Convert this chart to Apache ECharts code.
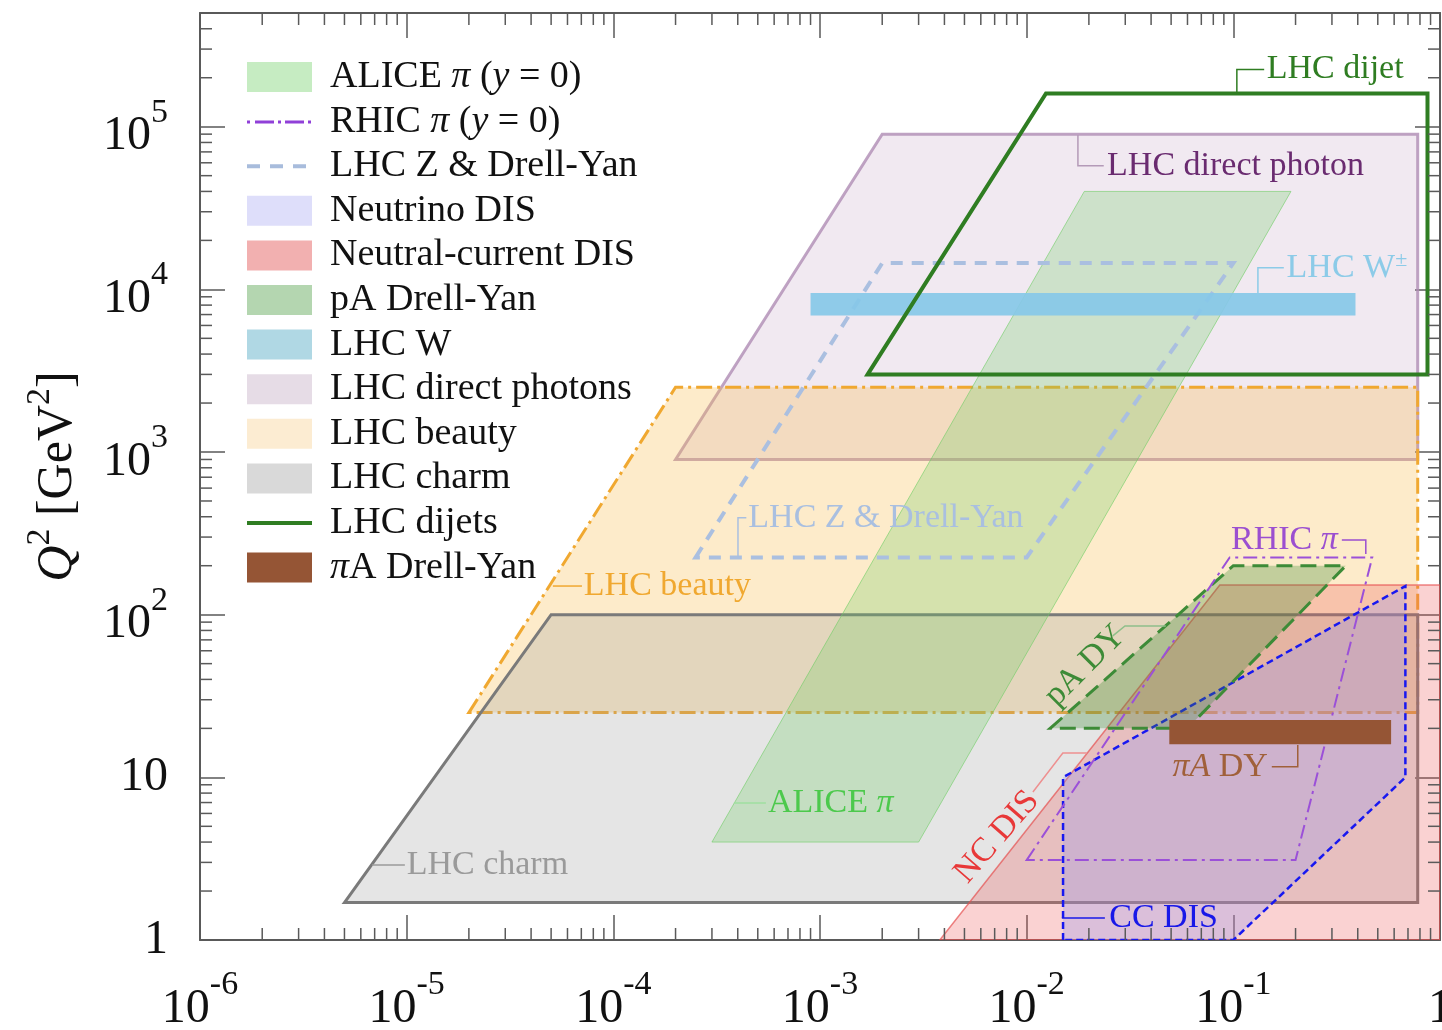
<!DOCTYPE html>
<html><head><meta charset="utf-8">
<script src="https://cdn.jsdelivr.net/npm/echarts@6/dist/echarts.min.js"></script>
<style>html,body{margin:0;padding:0;background:#fff}#c{width:1442px;height:1030px}</style>
</head><body><div id="c"></div>
<script>
const FONT = 'Liberation Serif';
// ---------- data: kinematic coverage regions, vertices as [x, Q^2 (GeV^2)] ----------
const aliceRegion    = [[3e-4, 4], [0.019, 4e4], [0.19, 4e4], [3e-3, 4]];
const rhicRegion     = [[0.01, 3.1], [0.096, 225], [0.47, 225], [0.2, 3.1]];
const lhcZDYRegion   = [[2.5e-4, 225], [2e-3, 1.45e4], [0.1, 1.45e4], [0.01, 225]];
const neutrinoRegion = [[0.015, 1], [0.015, 10], [0.68, 150], [0.68, 10], [0.1, 1]];
const ncDISRegion    = [[3.8e-3, 1], [0.086, 152], [1, 152], [1, 1]];
const pADYRegion     = [[0.013, 20], [0.1, 200], [0.35, 200], [0.06, 20]];
const lhcWBand       = [[9e-4, 6900], [0.39, 9500]];
const photonRegion   = [[2e-4, 900], [2e-3, 9e4], [0.78, 9e4], [0.78, 900]];
const beautyRegion   = [[2e-5, 25], [2e-4, 2500], [0.78, 2500], [0.78, 25]];
const charmRegion    = [[5e-6, 1.7], [5e-5, 100], [0.78, 100], [0.78, 1.7]];
const dijetRegion    = [[1.7e-3, 3000], [0.0124, 1.6e5], [0.87, 1.6e5], [0.87, 3000]];
const piADYBand      = [[0.049, 16], [0.58, 22.5]];
// axis ranges
const xRange = [1e-6, 1];
const yRange = [1, 5e5];
// region label anchors [x, Q^2] and leader lines
const regionLabels = [
  {text: 'LHC dijet', at: [0.145, 2.25e5], color: '#2f7d22', leader: [[0.141, 2.25e5], [0.104, 2.25e5], [0.104, 1.6e5]]},
  {text: 'LHC direct photon', at: [0.0245, 5.76e4], color: '#6a2b70', lineColor: '#b49ab8', leader: [[0.0177, 8.9e4], [0.0177, 5.76e4], [0.0236, 5.76e4]]},
  {text: 'LHC W{s|±}', at: [0.181, 1.36e4], color: '#8ccbe8', leader: [[0.1755, 1.36e4], [0.1315, 1.36e4], [0.1315, 9.5e3]]},
  {text: 'LHC Z & Drell-Yan', at: [4.5e-4, 394], color: '#a9bfe0', leader: [[4.4e-4, 394], [4.01e-4, 394], [4.01e-4, 227]]},
  {text: 'LHC beauty', at: [7.2e-5, 150], color: '#f0a830', leader: [[5.1e-5, 150], [7.05e-5, 150]]},
  {text: 'LHC charm', at: [1.0e-5, 2.89], color: '#9a9a9a', leader: [[6.8e-6, 2.89], [9.8e-6, 2.89]]},
  {text: 'ALICE {i|π}', at: [5.6e-4, 6.96], color: '#4cc94c', lineColor: '#9fdf9f', leader: [[3.83e-4, 6.96], [5.47e-4, 6.96]]},
  {text: 'pA DY', at: [0.0192, 48.5], color: '#3d8b37', rot: 45, align: 'center', lineColor: '#8fbf8a', leader: [[0.0261, 74.1], [0.0299, 85.3], [0.0471, 85.3]]},
  {text: 'RHIC {i|π}', at: [0.32, 288], color: '#9b4fd0', align: 'right', leader: [[0.335, 288], [0.4375, 288], [0.4375, 236]]},
  {text: '{i|πA} DY', at: [0.147, 11.6], color: '#a0603a', align: 'right', leader: [[0.1535, 11.6], [0.205, 11.6], [0.205, 15.8]]},
  {text: 'NC DIS', at: [7.18e-3, 4.3], color: '#e83838', rot: 49, align: 'center', lineColor: '#ee9090', leader: [[0.01072, 8.13], [0.01496, 14.1], [0.01955, 14.1]]},
  {text: 'CC DIS', at: [0.0251, 1.365], color: '#1818e8', leader: [[0.0148, 1.365], [0.0239, 1.365]]}
];
const legendNames = ['ALICE π (y = 0)', 'RHIC π (y = 0)', 'LHC Z & Drell-Yan', 'Neutrino DIS', 'Neutral-current DIS',
  'pA Drell-Yan', 'LHC W', 'LHC direct photons', 'LHC beauty', 'LHC charm', 'LHC dijets', 'πA Drell-Yan'];
const legendRich = {
  'ALICE π (y = 0)': '{n|ALICE }{i|π}{n| (}{i|y}{n| = 0)}',
  'RHIC π (y = 0)': '{n|RHIC }{i|π}{n| (}{i|y}{n| = 0)}',
  'πA Drell-Yan': '{i|π}{n|A Drell-Yan}'
};

// ---------- helpers ----------
function rectToPoly(b) { return [[b[0][0], b[0][1]], [b[1][0], b[0][1]], [b[1][0], b[1][1]], [b[0][0], b[1][1]]]; }
function regionSeries(name, pts, style, z) {
  return {
    type: 'custom', name: name, data: pts, z: z, clip: true, silent: true,
    encode: {x: 0, y: 1},
    renderItem: function (params, api) {
      if (params.dataIndex !== 0) return null;
      const points = pts.map(p => api.coord(p));
      return {type: 'polygon', shape: {points: points}, style: Object.assign({}, style)};
    }
  };
}
const minorXs = [], minorYs = [];
for (let d = -6; d < 0; d++) for (let m = 2; m <= 9; m++) minorXs.push(m * Math.pow(10, d));
for (let d = 0; d < 6; d++) for (let m = 2; m <= 9; m++) { const v = m * Math.pow(10, d); if (v < yRange[1]) minorYs.push(v); }

function logExp(v) { const e = Math.log10(v); const r = Math.round(e); return Math.abs(e - r) < 1e-6 ? r : null; }
const tickRich = {
  b: {fontFamily: FONT, fontSize: 48, lineHeight: 48, color: '#111', padding: [20, 0, 0, 0]},
  p: {fontFamily: FONT, fontSize: 48, lineHeight: 48, color: '#111'},
  s: {fontFamily: FONT, fontSize: 34, lineHeight: 34, color: '#111', padding: [3, 0, 31, 0]}
};
const axisCol = '#5a5a5a';

const chart = echarts.init(document.getElementById('c'), null, {renderer: 'canvas'});
const option = {
  animation: false,
  backgroundColor: '#ffffff',
  grid: {left: 200, right: 2, top: 13, bottom: 90, containLabel: false, outerBoundsMode: 'none'},
  xAxis: [
    {type: 'log', logBase: 10, min: xRange[0], max: xRange[1], splitNumber: 6, position: 'bottom',
      axisLine: {show: true, lineStyle: {color: axisCol, width: 2}},
      axisTick: {show: true, inside: true, length: 25, lineStyle: {color: axisCol, width: 1.5}},
      splitLine: {show: false}, minorTick: {show: false},
      axisLabel: {show: true, interval: 0, margin: 35, showMinLabel: true, showMaxLabel: true, hideOverlap: false, rich: tickRich,
        formatter: function (v) { const e = logExp(v); if (e === null) return ''; return e === 0 ? '{b|1}' : '{b|10}{s|' + e + '}'; }}},
    {type: 'log', logBase: 10, min: xRange[0], max: xRange[1], splitNumber: 6, position: 'top',
      axisLine: {show: true, lineStyle: {color: axisCol, width: 2}},
      axisTick: {show: true, inside: true, length: 25, lineStyle: {color: axisCol, width: 1.5}},
      splitLine: {show: false}, axisLabel: {show: false}}
  ],
  yAxis: [
    {type: 'log', logBase: 10, min: yRange[0], max: yRange[1], splitNumber: 5, position: 'left',
      name: '{i|Q}{s|2}{n| [GeV}{s|2}{n|]}', nameLocation: 'middle', nameRotate: 90, nameGap: 117,
      nameTextStyle: {fontFamily: FONT, fontSize: 48, color: '#111', rich: {
        i: {fontFamily: FONT, fontSize: 50, fontStyle: 'italic', verticalAlign: 'bottom', lineHeight: 50},
        n: {fontFamily: FONT, fontSize: 50, verticalAlign: 'bottom', lineHeight: 50},
        s: {fontFamily: FONT, fontSize: 34, verticalAlign: 'bottom', lineHeight: 34, padding: [0, 0, 26, 0]}}},
      axisLine: {show: true, lineStyle: {color: axisCol, width: 2}},
      axisTick: {show: true, inside: true, length: 25, lineStyle: {color: axisCol, width: 1.5}},
      splitLine: {show: false}, minorTick: {show: false},
      axisLabel: {show: true, interval: 0, margin: 32, hideOverlap: false, rich: tickRich,
        formatter: function (v) { const e = logExp(v); if (e === null) return ''; if (e === 0) return '{p|1}'; if (e === 1) return '{p|10}'; return '{b|10}{s|' + e + '}'; }}},
    {type: 'log', logBase: 10, min: yRange[0], max: yRange[1], splitNumber: 5, position: 'right',
      axisLine: {show: true, lineStyle: {color: axisCol, width: 2}},
      axisTick: {show: true, inside: true, length: 25, lineStyle: {color: axisCol, width: 1.5}},
      splitLine: {show: false}, axisLabel: {show: false}}
  ],
  legend: {
    orient: 'vertical', left: 242, top: 53, itemWidth: 65, itemHeight: 30, itemGap: 6.6,
    selectedMode: false,
    textStyle: {fontFamily: FONT, fontSize: 38, color: '#111', padding: [0, 0, 0, 13], lineHeight: 36,
      rich: {n: {fontFamily: FONT, fontSize: 38, color: '#111', lineHeight: 36},
             i: {fontFamily: FONT, fontSize: 38, color: '#111', fontStyle: 'italic', lineHeight: 36}}},
    formatter: function (name) { return legendRich[name] || name; },
    data: [
      {name: legendNames[0], icon: 'rect', itemStyle: {color: '#c6ecc2', borderWidth: 0}},
      {name: legendNames[1], icon: 'path://M0,0M65,30M0,14h3v3h-3zM8,14h19v3h-19zM31,14h3v3h-3zM38,14h19v3h-19zM61,14h3v3h-3z', itemStyle: {color: '#9040d8', borderWidth: 0}},
      {name: legendNames[2], icon: 'path://M0,0M65,30M0,13h13v4h-13zM23,13h13v4h-13zM46,13h13v4h-13z', itemStyle: {color: '#a8bcdc', borderWidth: 0}},
      {name: legendNames[3], icon: 'rect', itemStyle: {color: '#dedefa', borderWidth: 0}},
      {name: legendNames[4], icon: 'rect', itemStyle: {color: '#f2b0b0', borderWidth: 0}},
      {name: legendNames[5], icon: 'rect', itemStyle: {color: '#b4d6b0', borderWidth: 0}},
      {name: legendNames[6], icon: 'rect', itemStyle: {color: '#b0d8e4', borderWidth: 0}},
      {name: legendNames[7], icon: 'rect', itemStyle: {color: '#e6dce6', borderWidth: 0}},
      {name: legendNames[8], icon: 'rect', itemStyle: {color: '#fcecd2', borderWidth: 0}},
      {name: legendNames[9], icon: 'rect', itemStyle: {color: '#d9d9d9', borderWidth: 0}},
      {name: legendNames[10], icon: 'path://M0,0M65,30M0,13h65v4h-65z', itemStyle: {color: '#2f7d22', borderWidth: 0}},
      {name: legendNames[11], icon: 'rect', itemStyle: {color: '#955535', borderWidth: 0}}
    ]
  },
  series: [
    regionSeries('LHC direct photons', photonRegion, {fill: 'rgba(185,145,185,0.2)', stroke: 'rgba(175,140,180,0.8)', lineWidth: 3}, 1),
    regionSeries('LHC beauty', beautyRegion, {fill: 'rgba(250,190,80,0.3)', stroke: '#f0a830', lineWidth: 3, lineDash: [16, 5, 3, 5]}, 2),
    regionSeries('LHC charm', charmRegion, {fill: 'rgba(150,150,150,0.25)', stroke: '#7a7a7a', lineWidth: 3}, 3),
    regionSeries('ALICE π (y = 0)', aliceRegion, {fill: 'rgba(110,205,100,0.28)', stroke: 'rgba(110,205,100,0.6)', lineWidth: 1}, 4),
    regionSeries('LHC Z & Drell-Yan', lhcZDYRegion, {fill: 'none', stroke: '#aabfe0', lineWidth: 4, lineDash: [12, 9]}, 5),
    regionSeries('LHC W', rectToPoly(lhcWBand), {fill: 'rgba(135,200,232,0.92)', lineWidth: 0}, 6),
    regionSeries('Neutral-current DIS', ncDISRegion, {fill: 'rgba(235,90,90,0.27)', stroke: 'rgba(230,80,80,0.7)', lineWidth: 1.5}, 7),
    regionSeries('Neutrino DIS', neutrinoRegion, {fill: 'rgba(150,150,240,0.3)', stroke: '#1818f0', lineWidth: 2.5, lineDash: [7, 4]}, 8),
    regionSeries('pA Drell-Yan', pADYRegion, {fill: 'rgba(60,140,50,0.3)', stroke: '#3d8b37', lineWidth: 3, lineDash: [16, 8]}, 9),
    regionSeries('RHIC π (y = 0)', rhicRegion, {fill: 'none', stroke: '#9b50d8', lineWidth: 2, lineDash: [14, 5, 3, 5]}, 10),
    regionSeries('πA Drell-Yan', rectToPoly(piADYBand), {fill: '#955535', lineWidth: 0}, 11),
    regionSeries('LHC dijets', dijetRegion, {fill: 'none', stroke: '#2f7d22', lineWidth: 4}, 12),
    {
      type: 'custom', name: 'labels', data: [[xRange[0], yRange[0]]], z: 13, clip: false, silent: true,
      encode: {x: 0, y: 1},
      renderItem: function (params, api) {
        const children = [];
        regionLabels.forEach(function (a) {
          if (a.leader) children.push({type: 'polyline', shape: {points: a.leader.map(p => api.coord(p))},
            style: {stroke: a.lineColor || a.color, lineWidth: 1.5, fill: null}});
          const c = api.coord(a.at);
          children.push({type: 'text', x: c[0], y: c[1], rotation: (a.rot || 0) * Math.PI / 180,
            style: {text: a.text, fill: a.color, font: '34px "' + FONT + '"', align: a.align || 'left', verticalAlign: 'middle',
              rich: {i: {fontStyle: 'italic', fontFamily: FONT, fontSize: 34, fill: a.color},
                     s: {fontFamily: FONT, fontSize: 22, fill: a.color, padding: [0, 0, 14, 0]}}}});
        });
        return {type: 'group', children: children};
      }
    },
    {
      type: 'custom', name: 'minor ticks', data: [[xRange[0], yRange[0]]], z: 14, clip: false, silent: true,
      encode: {x: 0, y: 1},
      renderItem: function (params, api) {
        const L = 12, children = [];
        const st = {stroke: axisCol, lineWidth: 1.5};
        minorXs.forEach(function (v) {
          const b = api.coord([v, yRange[0]]), t = api.coord([v, yRange[1]]);
          children.push({type: 'line', shape: {x1: b[0], y1: b[1], x2: b[0], y2: b[1] - L}, style: st});
          children.push({type: 'line', shape: {x1: t[0], y1: t[1], x2: t[0], y2: t[1] + L}, style: st});
        });
        minorYs.forEach(function (v) {
          const l = api.coord([xRange[0], v]), r = api.coord([xRange[1], v]);
          children.push({type: 'line', shape: {x1: l[0], y1: l[1], x2: l[0] + L, y2: l[1]}, style: st});
          children.push({type: 'line', shape: {x1: r[0], y1: r[1], x2: r[0] - L, y2: r[1]}, style: st});
        });
        return {type: 'group', children: children};
      }
    }
  ]
};
chart.setOption(option);
</script>
</body></html>
